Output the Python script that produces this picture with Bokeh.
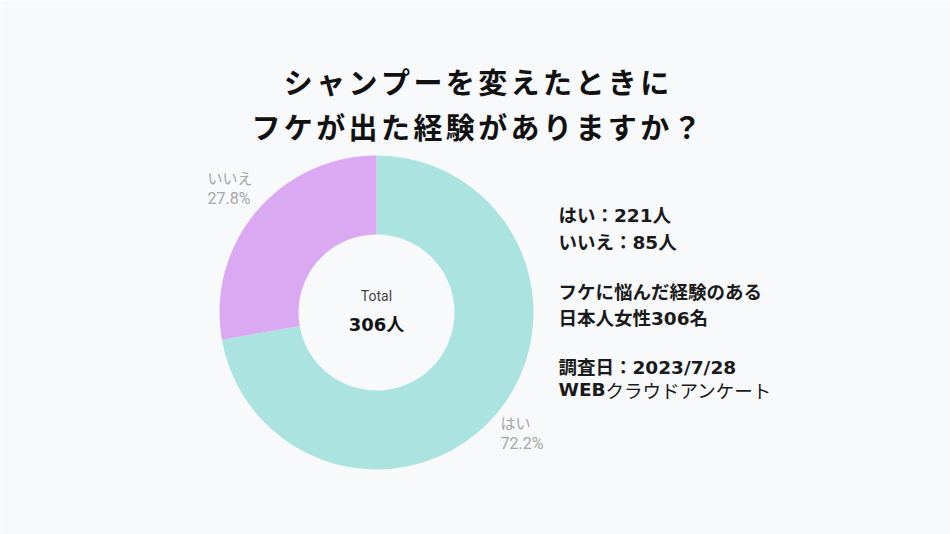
import math
from bokeh.plotting import figure
from bokeh.models import Range1d, ColumnDataSource
from bokeh.core.properties import value
from bokeh.embed import file_html
from bokeh.resources import INLINE

# ---- data ----
categories = ["はい", "いいえ"]
counts = [221, 85]
colors = ["#abe3e1", "#daa9f2"]
title_lines = ["シャンプーを変えたときに", "フケが出た経験がありますか？"]
info_lines = ["はい：221人", "いいえ：85人", "フケに悩んだ経験のある", "日本人女性306名", "調査日：2023/7/28"]
web_bold = "WEB"
web_rest = "クラウドアンケート"

W, H = 950, 534
BG = "#f8f9fb"
FONT = value("Noto Sans CJK JP")
FONT_MIX = value("DejaVu Sans, Noto Sans CJK JP")

def Y(y):
    return H - y

p = figure(width=W, height=H, output_backend="svg", toolbar_location=None,
           x_axis_type=None, y_axis_type=None, min_border=0,
           x_range=Range1d(0, W), y_range=Range1d(0, H))
p.background_fill_color = BG
p.border_fill_color = BG
p.outline_line_color = None
p.grid.visible = False

# ---- donut ----
total = sum(counts)
fracs = [c / total for c in counts]
starts, ends = [], []
cum = 0.0
for f in fracs:
    starts.append(math.pi / 2 - 2 * math.pi * cum)
    cum += f
    ends.append(math.pi / 2 - 2 * math.pi * cum)
cx, cy = 376, Y(312)
src = ColumnDataSource(dict(start=starts, end=ends, color=colors, cat=categories))
p.annular_wedge(x=cx, y=cy, inner_radius=78, outer_radius=157, start_angle="start",
                end_angle="end", direction="clock", fill_color="color", line_color=None,
                source=src)

# ---- title (per-character placement to mimic letter spacing) ----
pitch = 32.4
for line, yy in zip(title_lines, [80, 125]):
    n = len(line)
    x0 = 476 - pitch * n / 2 + pitch / 2
    xs = [x0 + i * pitch for i in range(n)]
    p.text(x=xs, y=[Y(yy)] * n, text=list(line), text_font=FONT, text_font_size="29px",
           text_font_style="bold", text_color="#111111", text_align="center",
           text_baseline="middle")

# ---- slice labels ----
pct = [f"{f*100:.1f}%" for f in fracs]
lab_pos = {"はい": (500, 422), "いいえ": (207, 177)}
for cat, pc in zip(categories, pct):
    lx, ly = lab_pos[cat]
    p.text(x=[lx], y=[Y(ly)], text=[cat], text_font=FONT,
           text_font_size="15px", text_color="#a6a6a6", text_align="left",
           text_baseline="middle")
    p.text(x=[lx], y=[Y(ly + 21)], text=[pc], text_font=value("Roboto"),
           text_font_size="16px", text_color="#a6a6a6", text_align="left",
           text_baseline="middle")

# ---- center text ----
p.text(x=[cx], y=[Y(295)], text=["Total"], text_font=value("Roboto"), text_font_size="14px",
       text_color="#444444", text_align="center", text_baseline="middle")
p.text(x=[cx], y=[Y(324)], text=[f"{total}人"], text_font=FONT_MIX, text_font_size="18px",
       text_font_style="bold", text_color="#111111", text_align="center",
       text_baseline="middle")

# ---- info text ----
info_y = [215, 242, 292, 318, 367]
p.text(x=[558] * len(info_lines), y=[Y(v) for v in info_y], text=info_lines, text_font=FONT_MIX,
       text_font_size="18.5px", text_font_style="bold", text_color="#1a1a1a",
       text_align="left", text_baseline="middle")
p.text(x=[558], y=[Y(389)], text=[web_bold], text_font=FONT_MIX, text_font_size="18.5px",
       text_font_style="bold", text_color="#1a1a1a", text_align="left", text_baseline="middle")
p.text(x=[605], y=[Y(389)], text=[web_rest], text_font=FONT, text_font_size="18.5px",
       text_color="#1a1a1a", text_align="left", text_baseline="middle")

open("out.html", "w").write(file_html(p, INLINE))
